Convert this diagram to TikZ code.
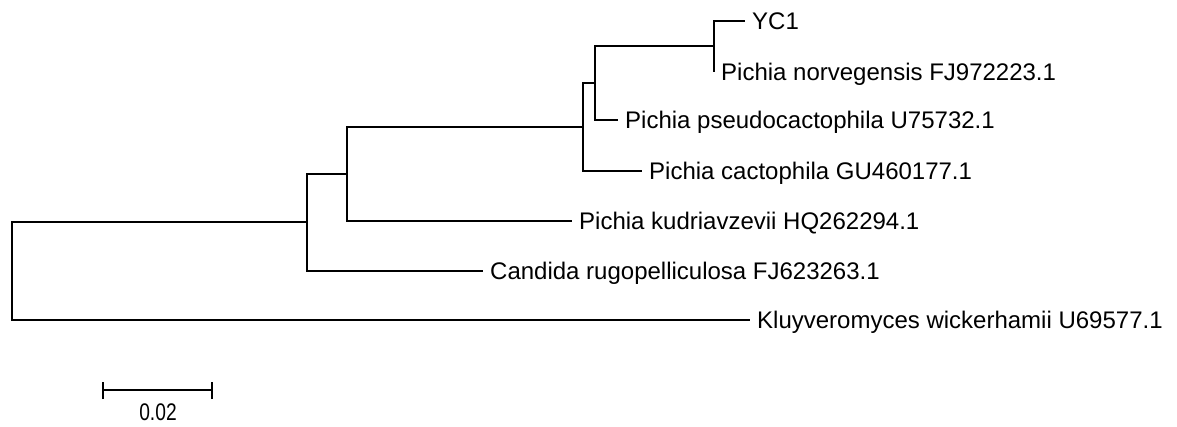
\documentclass[tikz,border=0pt]{standalone}
\usepackage{fontspec}
\setmainfont{Liberation Sans}
\begin{document}
\begin{tikzpicture}[x=1pt,y=-1pt,
  branch/.style={line width=1.8pt,black},
  leaf/.style={anchor=west,inner xsep=7pt,inner ysep=0pt,text height=17.2pt,text depth=0pt,
    font=\fontsize{24}{28}\selectfont}]
\useasboundingbox (0,0) rectangle (1177,426);
% internal nodes
\coordinate (r)  at (12,271);
\coordinate (n1) at (307,222);
\coordinate (n2) at (347,174);
\coordinate (n3) at (583,127);
\coordinate (n4) at (595,83);
\coordinate (n5) at (714,46);
% leaves
\node[leaf] (yc1)    at (745,21)  {YC1};
\node[leaf] (norv)   at (714,72)  {Pichia norvegensis FJ972223.1};
\node[leaf] (pseudo) at (618,120) {Pichia pseudocactophila U75732.1};
\node[leaf] (cacto)  at (642,171) {Pichia cactophila GU460177.1};
\node[leaf] (kudr)   at (572,221) {Pichia kudriavzevii HQ262294.1};
\node[leaf] (cand)   at (483,271) {Candida rugopelliculosa FJ623263.1};
\node[leaf] (kluy)   at (750,320) {Kluyveromyces wickerhamii U69577.1};
% branches
\draw[branch] (n5) |- (yc1.west);
\draw[branch] (n5) |- (norv.west);
\draw[branch] (n4) |- (n5);
\draw[branch] (n4) |- (pseudo.west);
\draw[branch] (n3) |- (n4);
\draw[branch] (n3) |- (cacto.west);
\draw[branch] (n2) |- (n3);
\draw[branch] (n2) |- (kudr.west);
\draw[branch] (n1) |- (n2);
\draw[branch] (n1) |- (cand.west);
\draw[branch] (r) |- (n1);
\draw[branch] (r) |- (kluy.west);
% scale bar
\coordinate (sb1) at (103,390);
\coordinate (sb2) at (212,390);
\draw[branch] (sb1) -- (sb2);
\draw[branch] ([yshift=-9pt]sb1) -- ([yshift=8pt]sb1);
\draw[branch] ([yshift=-9pt]sb2) -- ([yshift=8pt]sb2);
\node[inner sep=0pt,text height=17.2pt,text depth=0pt,font=\fontsize{24}{28}\selectfont] (sbl) at (158,411.5) {\scalebox{0.8}[1]{0.02}};
\end{tikzpicture}
\end{document}
